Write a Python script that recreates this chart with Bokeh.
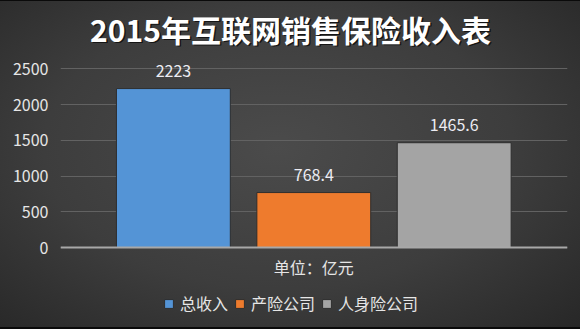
from bokeh.plotting import figure
from bokeh.models import Range1d, Legend, LegendItem, FixedTicker, ColumnDataSource, Label, Span
from bokeh.embed import file_html
from bokeh.resources import INLINE
from bokeh.core.properties import value

title_text = "2015年互联网销售保险收入表"
category_label = "单位：亿元"
series = ["总收入", "产险公司", "人身险公司"]
values = [2223, 768.4, 1465.6]
value_labels = ["2223", "768.4", "1465.6"]
colors = ["#5494d6", "#ee7b2d", "#a4a4a4"]
y_ticks = [0, 500, 1000, 1500, 2000, 2500]

FONT = "Noto Sans CJK SC"

p = figure(width=580, height=329, output_backend="svg", toolbar_location=None,
           x_range=Range1d(-0.804, 2.807), y_range=Range1d(-1147, 3455),
           min_border_left=60, min_border_right=13, min_border_top=0, min_border_bottom=0)
p.styles = {"background": "radial-gradient(ellipse at 48% 45%, #4b4b4b 0%, #3d3d3d 55%, #272727 100%)",
            "box-shadow": "inset 0 1px 0 #0a0a0a, inset 0 -2px 0 #0a0a0a"}
p.background_fill_alpha = 0
p.border_fill_alpha = 0
p.outline_line_color = None
p.xaxis.visible = False

xs = list(range(len(series)))
renderers = []
for i, (s, v, c) in enumerate(zip(series, values, colors)):
    src = ColumnDataSource(dict(x=[xs[i]], top=[v]))
    r = p.vbar(x="x", top="top", width=0.811, source=src, fill_color=c,
               line_color="#2e2e2e", line_width=1)
    renderers.append((s, r))

lab = ColumnDataSource(dict(x=xs, y=values, t=value_labels))
p.text(x="x", y="y", text="t", source=lab, text_align="center", text_baseline="bottom",
       y_offset=-12, text_color="#ececf2", text_font=value(FONT), text_font_size="16px")

# baseline (category axis line)
p.add_layout(Span(location=0, dimension="width", line_color="#a8a8a8", line_width=2))
p.add_layout(Label(x=1, y=63, y_units="screen", text=category_label, text_align="center",
                   text_baseline="middle", text_color="#e6e6e6", text_font=FONT,
                   text_font_size="16px"))

p.yaxis.ticker = FixedTicker(ticks=y_ticks)
p.yaxis.axis_line_color = None
p.yaxis.major_tick_line_color = None
p.yaxis.minor_tick_line_color = None
p.yaxis.major_tick_out = 0
p.yaxis.major_tick_in = 0
p.yaxis.major_label_text_color = "#e6e6e6"
p.yaxis.major_label_text_font = FONT
p.yaxis.major_label_text_font_size = "16px"
p.yaxis.major_label_standoff = 12

p.xgrid.grid_line_color = None
p.ygrid.ticker = FixedTicker(ticks=y_ticks)
p.ygrid.grid_line_color = "#626262"
p.ygrid.grid_line_width = 1

legend = Legend(items=[LegendItem(label=s, renderers=[r]) for s, r in renderers],
                orientation="horizontal", location=(103, 14),
                background_fill_alpha=0, border_line_color=None,
                label_text_color="#e6e6e6", label_text_font=FONT, label_text_font_size="16px",
                glyph_width=11, glyph_height=11, spacing=6, label_standoff=6, padding=0, margin=0)
p.add_layout(legend, "center")

p.add_layout(Label(x=231.5, y=299.5, x_units="screen", y_units="screen", text=title_text,
                   text_align="center", text_baseline="middle", text_color="#101010",
                   text_alpha=0.9, text_font=FONT, text_font_size="30px",
                   text_font_style="bold"))
p.add_layout(Label(x=230, y=301, x_units="screen", y_units="screen", text=title_text,
                   text_align="center", text_baseline="middle", text_color="#ffffff",
                   text_font=FONT, text_font_size="30px", text_font_style="bold"))

open("out.html", "w").write(file_html(p, INLINE))
